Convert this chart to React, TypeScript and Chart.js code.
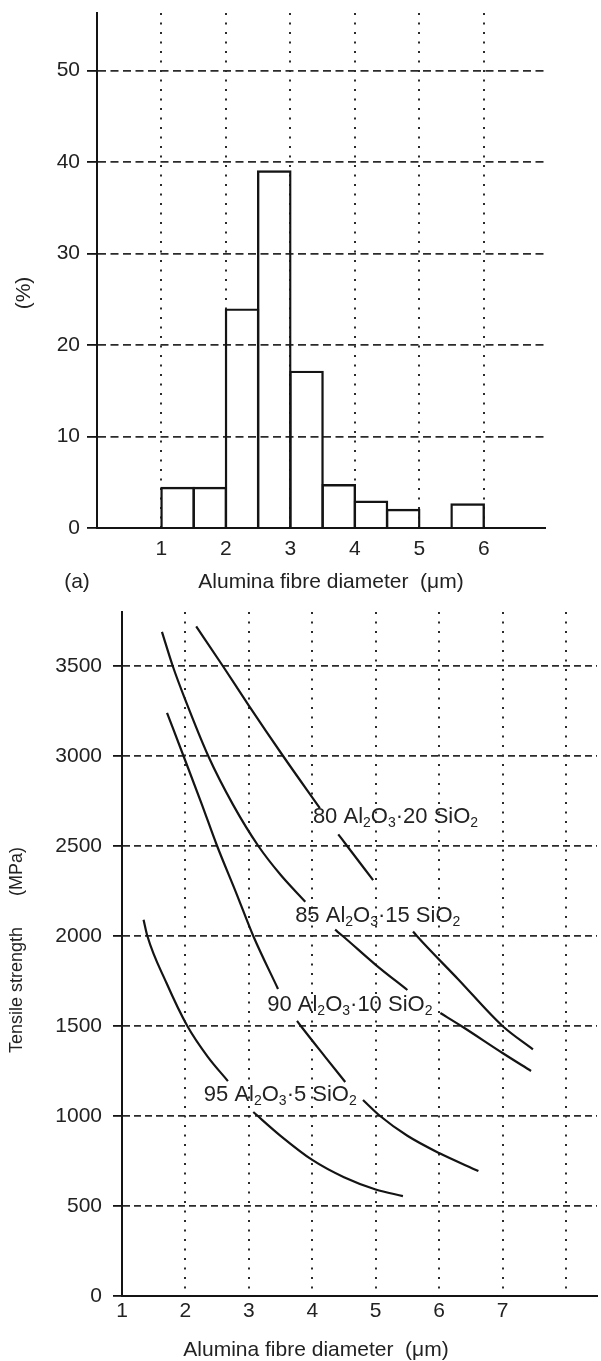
import React, { useEffect, useRef } from 'react';
import { Chart, registerables } from 'chart.js';

Chart.register(...registerables);

// ---------- (a) Histogram data ----------
const binCenters = [1.25, 1.75, 2.25, 2.75, 3.25, 3.75, 4.25, 4.75, 5.25, 5.75];
const binPercent = [4.5, 4.5, 24.0, 39.1, 17.2, 4.8, 3.0, 2.1, 0, 2.7];
const histXTicks = [1, 2, 3, 4, 5, 6];
const histXLabels = ['1', '2', '3', '4', '5', '6'];
const histYTicks = [0, 10, 20, 30, 40, 50];
const histYLabels = ['0', '10', '20', '30', '40', '50'];

// ---------- Tensile strength curves (null = gap for label) ----------
const curve80X = [2.17, 2.59, 3.0, 3.54, 4.12, 4.26, 4.41, 4.55, 4.96, 5.3, 5.59, 5.65, 6.3, 7.0, 7.48];
const curve80Y = [3720, 3500, 3280, 3000, 2710, null, 2565, 2500, 2310, null, 2025, 2000, 1760, 1500, 1370];
const curve85X = [1.63, 1.8, 2.0, 2.36, 2.75, 3.15, 3.5, 3.89, 4.1, 4.36, 4.48, 5.0, 5.5, 5.75, 6.02, 6.35, 7.0, 7.45];
const curve85Y = [3690, 3500, 3310, 3000, 2730, 2500, 2340, 2190, null, 2035, 2000, 1840, 1700, null, 1572, 1500, 1350, 1250];
const curve90X = [1.71, 1.97, 2.25, 2.5, 2.8, 3.07, 3.46, 3.6, 3.76, 3.82, 4.2, 4.52, 4.66, 4.8, 5.07, 5.5, 6.0, 6.62];
const curve90Y = [3240, 3000, 2740, 2500, 2240, 2000, 1706, null, 1528, 1500, 1330, 1189, null, 1089, 1000, 890, 794, 694];
const curve95X = [1.34, 1.4, 1.7, 2.03, 2.35, 2.67, 2.87, 3.07, 3.5, 4.0, 4.5, 5.0, 5.43];
const curve95Y = [2090, 2000, 1740, 1500, 1330, 1194, null, 1022, 890, 756, 660, 592, 555];

const curveLeads = ['80', '85', '90', '95'];
const curveTails = ['20', '15', '10', '5'];
const curveLabelX = [4.01, 3.73, 3.29, 2.29];
const curveLabelY = [2661, 2111, 1617, 1117];

const strengthXTicks = [1, 2, 3, 4, 5, 6, 7, 8];
const strengthXLabels = ['1', '2', '3', '4', '5', '6', '7', ''];
const strengthYTicks = [0, 500, 1000, 1500, 2000, 2500, 3000, 3500];
const strengthYLabels = ['0', '500', '1000', '1500', '2000', '2500', '3000', '3500'];

const xTitle = 'Alumina fibre diameter\u00a0\u00a0(\u03bcm)';

// ---------- styles ----------
const FONT_FAMILY = '"Liberation Sans", Arial, Helvetica, sans-serif';
const INK = '#141414';
const GRID = '#2b2b2b';
const TEXT = '#222222';

const toPoints = (xs: number[], ys: (number | null)[]) => xs.map((x, i) => ({ x, y: ys[i] }));

const noPad = (s: any) => {
  s.paddingTop = 0;
  s.paddingBottom = 0;
  s.paddingLeft = 0;
  s.paddingRight = 0;
};

const histTitles = {
  id: 'histTitles',
  afterDraw(chart: any) {
    const ctx = chart.ctx;
    ctx.save();
    ctx.fillStyle = TEXT;
    ctx.font = `21px ${FONT_FAMILY}`;
    ctx.textAlign = 'center';
    ctx.textBaseline = 'middle';
    ctx.fillText(xTitle, 331, 582);
    ctx.fillText('(a)', 77, 582);
    ctx.translate(24, 293);
    ctx.rotate(-Math.PI / 2);
    ctx.fillText('(%)', 0, 0);
    ctx.restore();
  },
};

const strengthTitles = {
  id: 'strengthTitles',
  afterDraw(chart: any) {
    const ctx = chart.ctx;
    const xs = chart.scales.x;
    const ys = chart.scales.y;
    ctx.save();
    ctx.fillStyle = TEXT;
    ctx.font = `21px ${FONT_FAMILY}`;
    ctx.textAlign = 'center';
    ctx.textBaseline = 'middle';
    ctx.fillText(xTitle, 316, 750);

    // y title
    ctx.save();
    ctx.translate(17, 0);
    ctx.rotate(-Math.PI / 2);
    ctx.font = `18px ${FONT_FAMILY}`;
    ctx.textAlign = 'left';
    ctx.fillText('Tensile strength', -453, 0);
    ctx.textAlign = 'right';
    ctx.fillText('(MPa)', -247, 0);
    ctx.restore();

    // curve labels
    const MAIN = `22px ${FONT_FAMILY}`;
    const SUB = `14px ${FONT_FAMILY}`;
    ctx.textAlign = 'left';
    for (let i = 0; i < curveLeads.length; i++) {
      let cx = xs.getPixelForValue(curveLabelX[i]);
      const cy = ys.getPixelForValue(curveLabelY[i]);
      const parts: [string, boolean][] = [
        [`${curveLeads[i]} Al`, false],
        ['2', true],
        ['O', false],
        ['3', true],
        [`\u00b7${curveTails[i]} SiO`, false],
        ['2', true],
      ];
      for (const [t, sub] of parts) {
        ctx.font = sub ? SUB : MAIN;
        ctx.fillText(t, cx, sub ? cy + 6 : cy);
        cx += ctx.measureText(t).width;
      }
    }
    ctx.restore();
  },
};

export default function App() {
  const histRef = useRef<HTMLCanvasElement>(null);
  const strRef = useRef<HTMLCanvasElement>(null);

  useEffect(() => {
    const tickFont = { family: FONT_FAMILY, size: 21 };

    const hist = new Chart(histRef.current as HTMLCanvasElement, {
      type: 'bar',
      data: {
        datasets: [
          {
            data: toPoints(binCenters, binPercent) as any,
            backgroundColor: 'rgba(0,0,0,0)',
            borderColor: INK,
            borderWidth: 2.4,
            barPercentage: 1.074,
            categoryPercentage: 1,
          },
        ],
      },
      options: {
        responsive: false,
        animation: false,
        events: [],
        layout: { padding: { left: 0, right: 56, top: 13, bottom: 0 } },
        plugins: { legend: { display: false }, tooltip: { enabled: false } },
        scales: {
          x: {
            type: 'linear',
            min: 0,
            max: 6.95,
            offset: false,
            afterBuildTicks: (s: any) => {
              s.ticks = histXTicks.map((v) => ({ value: v }));
            },
            afterFit: (s: any) => {
              s.height = 72;
              noPad(s);
            },
            ticks: {
              autoSkip: false,
              maxRotation: 0,
              padding: 9,
              color: TEXT,
              font: tickFont,
              callback: (v: any) => histXLabels[histXTicks.indexOf(Number(v))] ?? '',
            },
            grid: { color: GRID, lineWidth: 2, drawTicks: false, offset: false },
            border: { display: true, color: INK, width: 2, dash: [2, 7.5] },
          },
          y: {
            type: 'linear',
            min: 0,
            max: 56.3,
            afterBuildTicks: (s: any) => {
              s.ticks = histYTicks.map((v) => ({ value: v }));
            },
            afterFit: (s: any) => {
              s.width = 97;
              noPad(s);
            },
            ticks: {
              padding: 7,
              color: TEXT,
              font: tickFont,
              callback: (v: any) => histYLabels[histYTicks.indexOf(Number(v))] ?? '',
            },
            grid: { color: GRID, lineWidth: 1.8, drawTicks: true, tickLength: 10, tickColor: INK, tickWidth: 1.8 },
            border: { display: true, color: INK, width: 2, dash: [8, 4.5] },
          },
        },
      },
      plugins: [histTitles],
    } as any);

    const lineDs = (xs: number[], ys: (number | null)[]) => ({
      data: toPoints(xs, ys) as any,
      borderColor: INK,
      borderWidth: 2.2,
      pointRadius: 0,
      fill: false,
      spanGaps: false,
      cubicInterpolationMode: 'monotone' as const,
    });

    const str = new Chart(strRef.current as HTMLCanvasElement, {
      type: 'line',
      data: {
        datasets: [
          lineDs(curve80X, curve80Y),
          lineDs(curve85X, curve85Y),
          lineDs(curve90X, curve90Y),
          lineDs(curve95X, curve95Y),
        ],
      },
      options: {
        responsive: false,
        animation: false,
        events: [],
        layout: { padding: { left: 0, right: 4, top: 12, bottom: 0 } },
        plugins: { legend: { display: false }, tooltip: { enabled: false } },
        scales: {
          x: {
            type: 'linear',
            min: 1,
            max: 8.49,
            afterBuildTicks: (s: any) => {
              s.ticks = strengthXTicks.map((v) => ({ value: v }));
            },
            afterFit: (s: any) => {
              s.height = 65;
              noPad(s);
            },
            ticks: {
              autoSkip: false,
              maxRotation: 0,
              padding: 3,
              color: TEXT,
              font: tickFont,
              callback: (v: any) => strengthXLabels[strengthXTicks.indexOf(Number(v))] ?? '',
            },
            grid: { color: GRID, lineWidth: 2, drawTicks: false },
            border: { display: true, color: INK, width: 2, dash: [2, 7.5] },
          },
          y: {
            type: 'linear',
            min: 0,
            max: 3800,
            afterBuildTicks: (s: any) => {
              s.ticks = strengthYTicks.map((v) => ({ value: v }));
            },
            afterFit: (s: any) => {
              s.width = 122;
              noPad(s);
            },
            ticks: {
              padding: 11,
              color: TEXT,
              font: tickFont,
              callback: (v: any) => strengthYLabels[strengthYTicks.indexOf(Number(v))] ?? '',
            },
            grid: { color: GRID, lineWidth: 1.8, drawTicks: true, tickLength: 9, tickColor: INK, tickWidth: 1.8 },
            border: { display: true, color: INK, width: 2, dash: [7, 4] },
          },
        },
      },
      plugins: [strengthTitles],
    } as any);

    return () => {
      hist.destroy();
      str.destroy();
    };
  }, []);

  return (
    <div style={{ position: 'absolute', left: 0, top: 0, width: 601, height: 1361, background: '#fff' }}>
      <canvas ref={histRef} width={601} height={600} style={{ position: 'absolute', left: 0, top: 0, width: 601, height: 600 }} />
      <canvas ref={strRef} width={601} height={761} style={{ position: 'absolute', left: 0, top: 600, width: 601, height: 761 }} />
    </div>
  );
}
